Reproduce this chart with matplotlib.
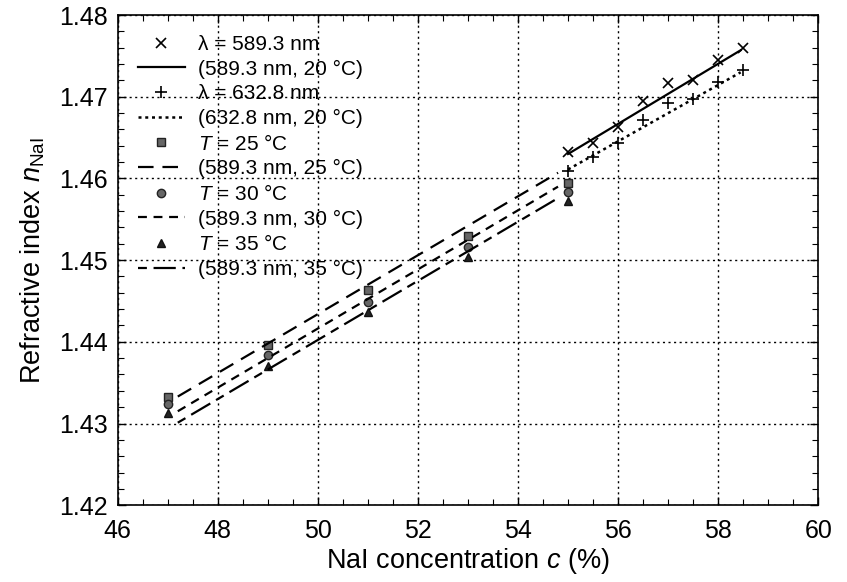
import matplotlib.pyplot as plt
from matplotlib.ticker import MultipleLocator

plt.rcParams['font.family'] = ['Liberation Sans', 'DejaVu Sans']
plt.rcParams['mathtext.fontset'] = 'custom'
plt.rcParams['mathtext.rm'] = 'Liberation Sans'
plt.rcParams['mathtext.it'] = 'Liberation Sans:italic'

# 20 deg C measurements at two wavelengths
c_20 = [55.0, 55.5, 56.0, 56.5, 57.0, 57.5, 58.0, 58.5]
n_589 = [1.4632, 1.4643, 1.4663, 1.4695, 1.4717, 1.4721, 1.4745, 1.4760]
n_633 = [1.4609, 1.4626, 1.4644, 1.4671, 1.4693, 1.4697, 1.4718, 1.4733]

# fitted lines at 20 deg C (end points)
fit20_c = [55.0, 58.45]
fit20_589 = [1.4630, 1.4757]
fit20_633 = [1.4611, 1.4730]

# temperature series at 589.3 nm
c_T = [47.0, 49.0, 51.0, 53.0, 55.0]
n_25 = [1.4333, 1.4396, 1.4463, 1.4529, 1.4595]
n_30 = [1.4324, 1.4384, 1.4449, 1.4516, 1.4583]
n_35 = [1.4313, 1.4370, 1.4436, 1.4504, 1.4572]

# fitted lines for the temperature series (end points)
fitT_c = [47.2, 54.8]
fit_25 = [1.4333, 1.4607]
fit_30 = [1.4315, 1.4590]
fit_35 = [1.4301, 1.4576]

fig = plt.figure(figsize=(8.47, 5.82), dpi=100)
ax = fig.add_axes([0.139, 0.132, 0.827, 0.842])

ax.plot(c_20, n_589, ls='none', marker='x', ms=7.5, mew=1.2, color='black',
        label='λ = 589.3 nm')
ax.plot(fit20_c, fit20_589, ls='-', lw=1.6, color='black',
        label='(589.3 nm, 20 °C)')
ax.plot(c_20, n_633, ls='none', marker='+', ms=8, mew=1.2, color='black',
        label='λ = 632.8 nm')
ax.plot(fit20_c, fit20_633, ls=(0, (1.2, 1.5)), lw=1.8, color='black',
        label='(632.8 nm, 20 °C)')

ax.plot(c_T, n_25, ls='none', marker='s', ms=6, mfc='#666666', mec='#222222',
        label=r'$T$ = 25 °C')
ax.plot(fitT_c, fit_25, ls=(0, (7, 4)), lw=1.6, color='black',
        label='(589.3 nm, 25 °C)')
ax.plot(c_T, n_30, ls='none', marker='o', ms=6, mfc='#666666', mec='#222222',
        label=r'$T$ = 30 °C')
ax.plot(fitT_c, fit_30, ls=(0, (4, 3)), lw=1.6, color='black',
        label='(589.3 nm, 30 °C)')
ax.plot(c_T, n_35, ls='none', marker='^', ms=6, mfc='#222222', mec='#111111',
        label=r'$T$ = 35 °C')
ax.plot(fitT_c, fit_35, ls=(0, (4, 3, 10, 3)), lw=1.6, color='black',
        label='(589.3 nm, 35 °C)')

ax.set_xlim(46, 60)
ax.set_ylim(1.42, 1.48)
ax.xaxis.set_major_locator(MultipleLocator(2))
ax.xaxis.set_minor_locator(MultipleLocator(0.5))
ax.yaxis.set_major_locator(MultipleLocator(0.01))
ax.yaxis.set_minor_locator(MultipleLocator(0.002))
ax.yaxis.set_major_formatter(plt.FormatStrFormatter('%.2f'))
ax.tick_params(which='both', direction='in', top=True, right=True,
               labelsize=18)
ax.tick_params(axis='x', pad=10)
ax.tick_params(axis='y', pad=7)
ax.tick_params(which='major', length=6, width=1)
ax.tick_params(which='minor', length=4, width=0.8)
ax.grid(True, which='major', ls=(0, (1.5, 2.5)), lw=1.0, color='black')
for s in ax.spines.values():
    s.set_linewidth(1.2)

ax.set_xlabel(r'NaI concentration $c$ (%)', fontsize=19.5, labelpad=2)
ax.set_ylabel(r'Refractive index $n_{\mathrm{NaI}}$', fontsize=19.5, labelpad=9)

ax.legend(loc='upper left', frameon=False, fontsize=15, labelspacing=0.27,
          handlelength=2.3, handletextpad=0.6, borderaxespad=0.75,
          borderpad=0.2, numpoints=1)

fig.savefig('out.png', dpi=100)
